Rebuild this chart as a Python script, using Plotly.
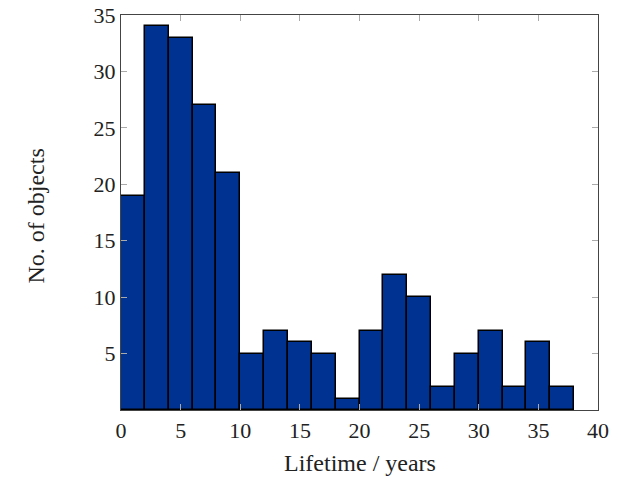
import plotly.graph_objects as go

bin_starts = [0, 2, 4, 6, 8, 10, 12, 14, 16, 18, 20, 22, 24, 26, 28, 30, 32, 34, 36]
counts = [19, 34, 33, 27, 21, 5, 7, 6, 5, 1, 7, 12, 10, 2, 5, 7, 2, 6, 2]
bin_width = 2
x_ticks = [0, 5, 10, 15, 20, 25, 30, 35, 40]
y_ticks = [5, 10, 15, 20, 25, 30, 35]

centers = [s + bin_width / 2 for s in bin_starts]

fig = go.Figure(go.Bar(
    x=centers, y=counts, width=[bin_width] * len(counts),
    marker=dict(color="#003391", line=dict(color="black", width=1.5)),
))

tick_font = dict(family="Liberation Serif, DejaVu Serif, serif", size=22, color="#222")
title_font = dict(family="Liberation Serif, DejaVu Serif, serif", size=24, color="#222")
axis_common = dict(
    showgrid=False, zeroline=False, showline=True, mirror="ticks",
    linecolor="#444", linewidth=1.2, ticks="inside", ticklen=6,
    tickcolor="#aaa", tickwidth=1, tickfont=tick_font, automargin=False,
)
fig.update_layout(
    width=621, height=477,
    margin=dict(l=121, r=23, t=15, b=67),
    plot_bgcolor="white", paper_bgcolor="white",
    showlegend=False, bargap=0,
    xaxis=dict(range=[0, 40], tickvals=x_ticks, **axis_common),
    yaxis=dict(range=[0, 35], tickvals=y_ticks, **axis_common),
    annotations=[
        dict(text="Lifetime / years", xref="paper", yref="paper", x=0.5, y=-0.135,
             xanchor="center", yanchor="middle", showarrow=False, font=title_font),
        dict(text="No. of objects", xref="paper", yref="paper", x=-0.178, y=0.49,
             xanchor="center", yanchor="middle", textangle=-90, showarrow=False,
             font=title_font),
    ],
)
fig.write_html("out.html",
               config={"displayModeBar": False},
               post_script="document.body.style.margin='0';document.body.style.overflow='hidden';")
